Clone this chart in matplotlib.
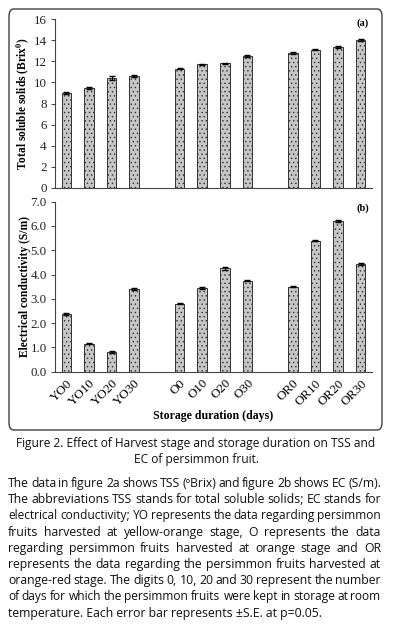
import numpy as np
import matplotlib
matplotlib.use('Agg')
import matplotlib.pyplot as plt
from matplotlib.patches import FancyBboxPatch

plt.rcParams['font.family'] = ['Liberation Serif', 'DejaVu Serif']
plt.rcParams['mathtext.fontset'] = 'stix'
plt.rcParams['hatch.color'] = '#9a9a9a'
plt.rcParams['hatch.linewidth'] = 0.5

# Данные
labels = ['YO0', 'YO10', 'YO20', 'YO30', 'O0', 'O10', 'O20', 'O30',
          'OR0', 'OR10', 'OR20', 'OR30']
slots = [0, 1, 2, 3, 5, 6, 7, 8, 10, 11, 12, 13]

tss = [9.0, 9.45, 10.45, 10.6, 11.3, 11.7, 11.8, 12.5, 12.75, 13.1, 13.35, 14.0]
tss_err = [0.08, 0.08, 0.2, 0.06, 0.08, 0.05, 0.05, 0.1, 0.08, 0.05, 0.1, 0.06]

ec = [2.38, 1.15, 0.83, 3.42, 2.8, 3.45, 4.25, 3.75, 3.5, 5.4, 6.2, 4.43]
ec_err = [0.03, 0.02, 0.04, 0.04, 0.03, 0.04, 0.05, 0.02, 0.02, 0.03, 0.05, 0.05]

caption = ['Figure 2. Effect of Harvest stage and storage duration on TSS and',
           'EC of persimmon fruit.']
notes = ['The data in figure 2a shows TSS (\u00baBrix) and figure 2b shows EC (S/m).',
         'The abbreviations TSS stands for total soluble solids; EC stands for',
         'electrical conductivity; YO represents the data regarding persimmon',
         'fruits harvested at yellow-orange stage, O represents the data',
         'regarding persimmon fruits harvested at orange stage and OR',
         'represents the data regarding the persimmon fruits harvested at',
         'orange-red stage. The digits 0, 10, 20 and 30 represent the number',
         'of days for which the persimmon fruits were kept in storage at room',
         'temperature. Each error bar represents \u00b1S.E. at p=0.05.']

W, H = 394, 625
fig = plt.figure(figsize=(W / 100, H / 100), dpi=100)

# Рамка вокруг графиков
box = FancyBboxPatch((9 / W, 1 - 430 / H), 373 / W, 421 / H,
                     boxstyle='round,pad=0,rounding_size=0.012',
                     transform=fig.transFigure, fill=False,
                     edgecolor='#404040', linewidth=1.0)
fig.patches.append(box)

def bar_axes(bottom, top, values, errs, ymax, step, fmt, tag, tag_y):
    ax = fig.add_axes([55 / W, 1 - bottom / H, 317 / W, (bottom - top) / H])
    ax.bar(slots, values, width=0.42, color='#c6c6c6', edgecolor='#333333',
           linewidth=0.7, hatch='....', zorder=2)
    ax.errorbar(slots, values, yerr=errs, fmt='none', ecolor='black',
                elinewidth=0.8, capsize=2.2, capthick=1.0, zorder=3)
    ax.set_xlim(-0.5, 13.5)
    ax.set_ylim(0, ymax)
    ticks = np.arange(0, ymax + 0.001, step)
    ax.set_yticks(ticks)
    ax.set_yticklabels([fmt.format(v) for v in ticks], fontsize=9.4,
                       color='#222222')
    for s in ['top', 'right']:
        ax.spines[s].set_visible(False)
    ax.spines['left'].set_color('#444444')
    ax.spines['bottom'].set_color('#444444')
    ax.tick_params(axis='y', length=3, width=0.7, pad=3, colors='#444444',
                   labelcolor='#222222')
    ax.tick_params(axis='x', length=0)
    ax.text(0.972, tag_y, tag, transform=ax.transAxes, ha='center',
            va='center', fontsize=7.5, fontweight='bold')
    return ax

ax1 = bar_axes(188, 19, tss, tss_err, 16, 2, '{:.0f}', '(a)', 0.978)
ax1.set_xticks([])
ax1.set_ylabel(r'Total soluble solids (Brix$^{\mathbf{0}}$)', fontsize=8.3,
               fontweight='bold')

ax2 = bar_axes(371.7, 201.7, ec, ec_err, 7, 1, '{:.1f}', '(b)', 0.963)
ax2.set_xticks(slots)
ax2.set_xticklabels(labels, rotation=45, ha='right', rotation_mode='anchor',
                    fontsize=9.4)
ax2.tick_params(axis='x', pad=4)
ax2.set_ylabel('Electrical conductivity (S/m)', fontsize=8.3,
               fontweight='bold')
ax1.yaxis.set_label_coords(-0.075, 0.5)
ax2.yaxis.set_label_coords(-0.075, 0.5)

fig.text(213 / W, 1 - 416 / H, 'Storage duration (days)', ha='center',
         va='center', fontsize=8.6, fontweight='bold')

# Подпись рисунка
sans = ['Open Sans', 'DejaVu Sans']
for i, line in enumerate(caption):
    fig.text(196 / W, 1 - (447 + 16.5 * i) / H, line, ha='center',
             va='baseline', fontsize=8.6, family=sans, color='#111111')

# Выравнивание по ширине
fs = 8.8
renderer = fig.canvas.get_renderer()
x_left, x_right = 8.0, 381.0
for i, line in enumerate(notes):
    y = 1 - (487 + 16.2 * i) / H
    words = line.split(' ')
    if i == len(notes) - 1:
        fig.text(x_left / W, y, line, ha='left', va='baseline', fontsize=fs,
                 family=sans, color='#111111')
        continue
    arts = [fig.text(0, y, w, ha='left', va='baseline', fontsize=fs,
                     family=sans, color='#111111') for w in words]
    widths = [a.get_window_extent(renderer).width for a in arts]
    gap = (x_right - x_left - sum(widths)) / (len(words) - 1)
    if gap < 2.2:
        # строка не помещается - чуть уменьшаем шрифт
        k = (x_right - x_left - 2.2 * (len(words) - 1)) / sum(widths)
        for a in arts:
            a.set_fontsize(fs * k)
        widths = [w * k for w in widths]
        gap = 2.2
    x = x_left
    for a, w in zip(arts, widths):
        a.set_x(x / W)
        x += w + gap

fig.savefig('out.png', dpi=100)
